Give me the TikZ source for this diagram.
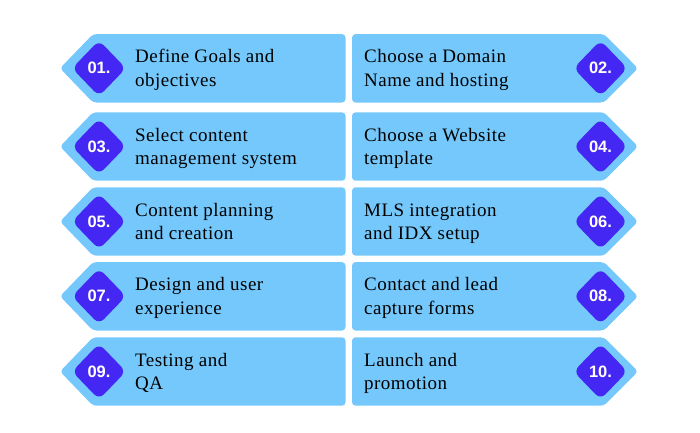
\documentclass[tikz,border=0pt]{standalone}
\usepackage{fontspec}
\setmainfont{Liberation Serif}[LetterSpace=2.5]
\newfontfamily\numfont{Liberation Sans}
\usetikzlibrary{shapes.geometric}
\definecolor{boxblue}{HTML}{74C8FB}
\definecolor{numpurple}{HTML}{4527F3}
\tikzset{
  x=1pt, y=-1pt,
  stepcard/.style={fill=boxblue, rounded corners=3.5pt},
  numbadge/.style={diamond, fill=numpurple, minimum width=54pt, minimum height=56pt, inner sep=0pt, rounded corners=7pt, text=white, font=\numfont\bfseries\fontsize{16.5}{18}\selectfont},
  steptext/.style={anchor=west, align=left, inner sep=0pt, font=\fontsize{19}{23.6}\selectfont}
}
\begin{document}
\begin{tikzpicture}
\useasboundingbox (0,0) rectangle (700,432);
\foreach \c/\i/\j/\ta/\tb in {
  68.3/01./02./{\strut Define Goals and\\\strut objectives}/{\strut Choose a Domain\\\strut Name and hosting},
  146.5/03./04./{\strut Select content\\\strut management system}/{\strut Choose a Website\\\strut template},
  221.5/05./06./{\strut Content planning\\\strut and creation}/{\strut MLS integration\\\strut and IDX setup},
  296.3/07./08./{\strut Design and user\\\strut experience}/{\strut Contact and lead\\\strut capture forms},
  371.5/09./10./{\strut Testing and\\\strut QA}/{\strut Launch and\\\strut promotion}}{
  \fill[stepcard] (60,\c) -- (93,\c-34.2) -- (345.5,\c-34.2) -- (345.5,\c+34.2) -- (93,\c+34.2) -- cycle;
  \fill[stepcard] (638,\c) -- (604,\c-34.2) -- (352,\c-34.2) -- (352,\c+34.2) -- (604,\c+34.2) -- cycle;
  \node[numbadge] (n\i) at (99,\c) {\i};
  \node[numbadge] (n\j) at (600.5,\c) {\j};
  \node[steptext] (t\i) at (135,\c+1.7) {\ta};
  \node[steptext] (t\j) at (364,\c+1.7) {\tb};
}
\end{tikzpicture}
\end{document}
